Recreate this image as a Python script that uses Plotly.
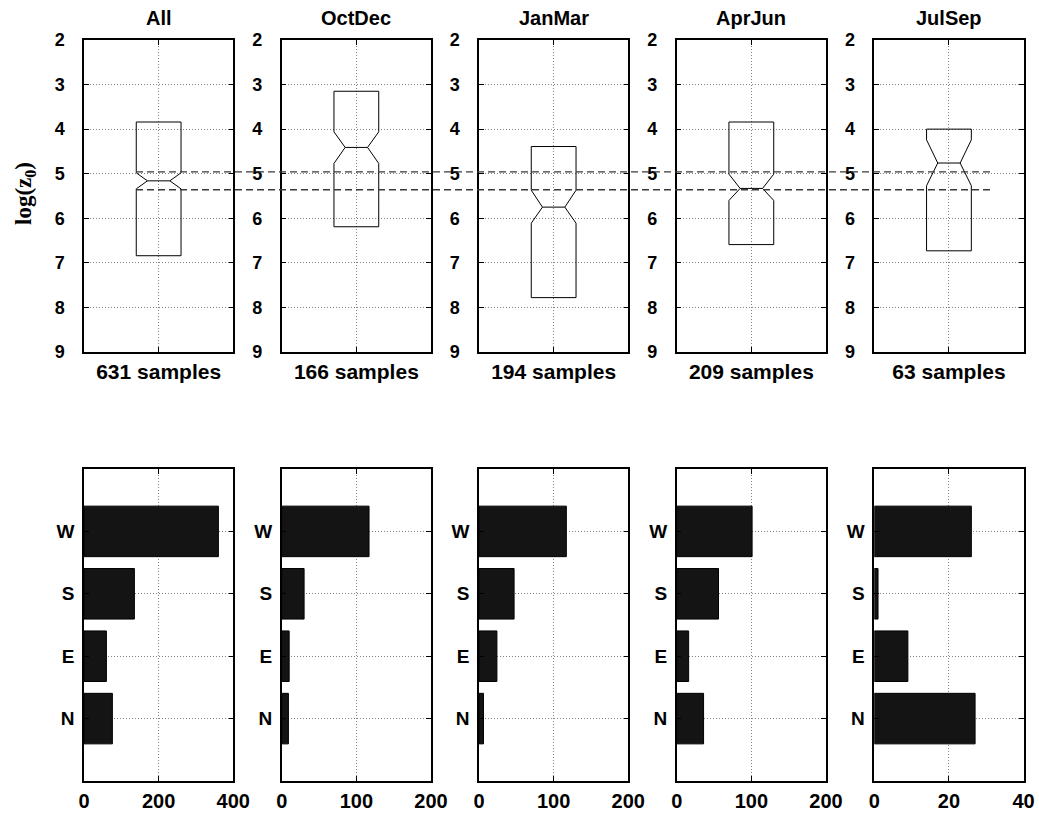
import plotly.graph_objects as go

# ---------------- data ----------------
seasons = ["All", "OctDec", "JanMar", "AprJun", "JulSep"]
n_samples = [631, 166, 194, 209, 63]

# notched box statistics (log z0)
box_q1 = [3.84, 3.15, 4.39, 3.84, 4.00]
notch_lo = [4.98, 4.06, 5.37, 5.01, 4.24]
box_median = [5.16, 4.41, 5.75, 5.33, 4.76]
notch_hi = [5.34, 4.77, 6.11, 5.60, 5.27]
box_q3 = [6.84, 6.19, 7.78, 6.59, 6.73]

# reference (dashed) lines: notch of "All"
ref_lines = [4.96, 5.36]

# wind-direction counts
directions = ["N", "E", "S", "W"]
counts_N = [76, 9, 6, 36, 27]
counts_E = [60, 10, 24, 16, 9]
counts_S = [135, 30, 47, 56, 1]
counts_W = [360, 117, 117, 101, 26]
count_max = [400, 200, 200, 200, 40]

# ---------------- layout helpers ----------------
W, H = 1039, 813
left_px = [84, 281.7, 479, 676.7, 874.3]
panel_w = 149.3
top_row = (40, 352)
bot_row = (469, 781)

FONT = "Liberation Sans"
grid_col = "#808080"

def xd(i):
    return [left_px[i] / W, (left_px[i] + panel_w) / W]

def yd(row):
    return [1 - row[1] / H, 1 - row[0] / H]

fig = go.Figure()
layout = dict(width=W, height=H, margin=dict(l=0, r=0, t=0, b=0, autoexpand=False),
              plot_bgcolor="white", paper_bgcolor="white", showlegend=False)

axis_common = dict(showline=True, linecolor="black", linewidth=1.5, mirror="ticks",
                   ticks="inside", ticklen=5, tickcolor="black", tickwidth=1,
                   showgrid=True, gridcolor=grid_col, griddash="1px,2px", gridwidth=1,
                   zeroline=False, fixedrange=True, automargin=False)

half_w = 0.15
half_n = 0.075
annotations = []

for i in range(5):
    ta = 2 * i + 1
    ba = 2 * i + 2
    txn = "x" if ta == 1 else f"x{ta}"
    tyn = "y" if ta == 1 else f"y{ta}"
    bxn = f"x{ba}"
    byn = f"y{ba}"

    # notched box outline
    c = 1.0
    xs = [c - half_w, c - half_w, c - half_n, c - half_w, c - half_w,
          c + half_w, c + half_w, c + half_n, c + half_w, c + half_w, c - half_w]
    ys = [box_q1[i], notch_lo[i], box_median[i], notch_hi[i], box_q3[i],
          box_q3[i], notch_hi[i], box_median[i], notch_lo[i], box_q1[i], box_q1[i]]
    fig.add_trace(go.Scatter(x=xs, y=ys, mode="lines", line=dict(color="black", width=1),
                             xaxis=txn, yaxis=tyn, hoverinfo="skip"))
    fig.add_trace(go.Scatter(x=[c - half_n, c + half_n], y=[box_median[i], box_median[i]],
                             mode="lines", line=dict(color="black", width=1),
                             xaxis=txn, yaxis=tyn, hoverinfo="skip"))

    # direction bars
    vals = [counts_N[i], counts_E[i], counts_S[i], counts_W[i]]
    fig.add_trace(go.Bar(x=vals, y=[1, 2, 3, 4], orientation="h", width=0.81,
                         marker=dict(color="#141414", line=dict(color="black", width=1)),
                         xaxis=bxn, yaxis=byn, hoverinfo="skip"))

    k_t = "" if ta == 1 else str(ta)
    layout[f"xaxis{k_t}"] = dict(axis_common, domain=xd(i), range=[0.5, 1.5],
                                 anchor=tyn, tickvals=[1],
                                 ticktext=[f"{n_samples[i]} samples"],
                                 tickfont=dict(family=FONT, size=21, color="black", weight="bold"),
                                 ticklabelstandoff=0)
    layout[f"yaxis{k_t}"] = dict(axis_common, domain=yd(top_row), range=[9, 2],
                                 anchor=txn, tickvals=list(range(2, 10)),
                                 tickfont=dict(family=FONT, size=18, color="black", weight="bold"),
                                 ticklabelstandoff=14)
    mid = count_max[i] / 2
    layout[f"xaxis{ba}"] = dict(axis_common, domain=xd(i), range=[0, count_max[i]],
                                anchor=byn, tickvals=[0, mid, count_max[i]],
                                tickfont=dict(family=FONT, size=20, color="black", weight="bold"),
                                ticklabelstandoff=1)
    layout[f"yaxis{ba}"] = dict(axis_common, domain=yd(bot_row), range=[0, 5],
                                anchor=bxn, tickvals=[1, 2, 3, 4], ticktext=directions,
                                tickfont=dict(family=FONT, size=19, color="black", weight="bold"),
                                ticklabelstandoff=4)

    annotations.append(dict(text=seasons[i], xref="paper", yref="paper",
                            x=(left_px[i] + panel_w / 2) / W, y=1 - 18 / H,
                            xanchor="center", yanchor="middle", showarrow=False,
                            font=dict(family=FONT, size=20, color="black", weight="bold")))

annotations.append(dict(text="log(z<sub>0</sub>)", xref="paper", yref="paper",
                        x=25 / W, y=1 - 194 / H, textangle=-90, xanchor="center",
                        yanchor="middle", showarrow=False,
                        font=dict(family="Liberation Serif", size=23, color="black",
                                  weight="bold")))

shapes = []
for v in ref_lines:
    shapes.append(dict(type="line", xref="paper", yref="y", x0=136 / W, x1=994 / W,
                       y0=v, y1=v, layer="above",
                       line=dict(color="#3a3a3a", width=1.3, dash="7px,4px")))

layout["annotations"] = annotations
layout["shapes"] = shapes
fig.update_layout(**layout)
fig.write_html("out.html", config={"displayModeBar": False},
               post_script="document.body.style.margin='0';document.body.style.overflow='hidden';")
